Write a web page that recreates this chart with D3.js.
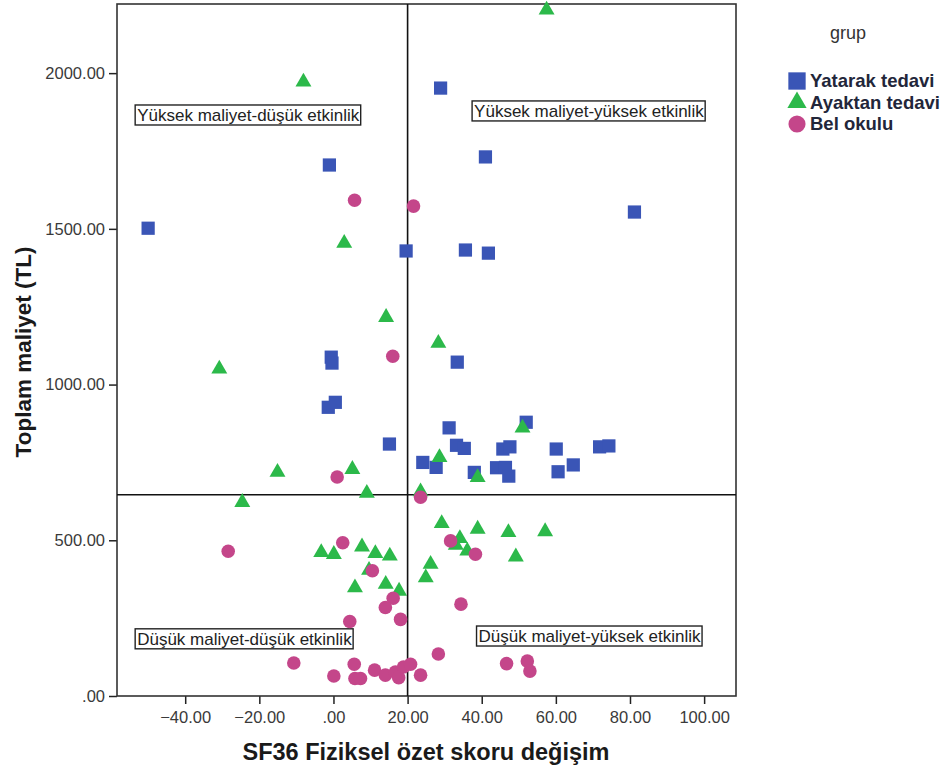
<!DOCTYPE html>
<html>
<head>
<meta charset="utf-8">
<script src="https://cdn.jsdelivr.net/npm/d3@7"></script>
<style>
  body { margin: 0; background: #fff; }
  svg text { font-family: "Liberation Sans", Arial, sans-serif; }
</style>
</head>
<body>
<script>
const width = 944;
const height = 778;

// data: [SF36 change, total cost]
const yatarak = [
  [-50, 1502], [28.9, 1952], [-1.1, 1705], [41.0, 1731], [81.2, 1554],
  [19.6, 1429], [35.6, 1432], [41.8, 1422], [-0.6, 1088], [-0.4, 1069],
  [-1.4, 927], [0.5, 943], [33.4, 1072], [15.1, 809],
  [31.2, 861], [33.2, 805], [35.3, 795], [24.1, 750], [27.7, 734],
  [38.0, 718], [45.7, 793], [47.6, 800], [44.0, 733], [46.4, 734],
  [47.3, 706], [52.0, 879], [60.1, 793], [60.6, 720], [64.7, 742],
  [71.8, 800], [74.3, 803]
];
const ayaktan = [
  [57.5, 2203], [-8.1, 1972], [2.9, 1454], [14.2, 1216], [-30.8, 1050],
  [28.3, 1133], [-15.1, 719], [5.1, 728], [-24.6, 622], [9.0, 651],
  [28.6, 766], [38.9, 702], [51.0, 861], [23.5, 656],
  [-3.3, 461], [0.1, 455], [7.7, 479], [11.3, 458], [15.2, 450],
  [9.6, 404], [5.8, 348], [14.1, 359], [17.7, 337], [26.2, 423],
  [24.9, 380], [29.2, 554], [34.1, 506], [33.0, 484], [38.9, 536],
  [36.1, 466], [47.2, 525], [57.1, 528], [49.2, 447]
];
const belOkulu = [
  [5.7, 1592], [21.6, 1573], [16.0, 1091], [1.0, 703], [23.5, 638],
  [-28.4, 465], [2.5, 492], [10.5, 402], [16.1, 314], [14.0, 284],
  [18.1, 246], [4.4, 239], [-10.7, 106], [0.1, 64], [5.6, 102],
  [5.8, 56], [7.3, 56], [11.1, 83], [14.0, 67], [16.7, 77],
  [17.6, 59], [18.9, 93], [20.8, 102], [23.5, 67], [28.3, 135],
  [31.6, 498], [38.3, 455], [34.4, 295], [46.7, 104], [52.3, 112],
  [53.0, 80]
];

const groupNames = ["Yatarak tedavi", "Ayaktan tedavi", "Bel okulu"];
const groupColors = ["#3a55b6", "#2cb94a", "#c4468a"];
const groupShapes = [d3.symbolSquare, d3.symbolTriangle, d3.symbolCircle];
const groupSizes = [175, 110, 145];

const xTicks = [-40, -20, 0, 20, 40, 60, 80, 100];
const yTicks = [0, 500, 1000, 1500, 2000];
const refX = 20;
const refY = 646;

const quadrants = [
  { label: "Yüksek maliyet-düşük etkinlik", x: -53.5, y: 1866 },
  { label: "Yüksek maliyet-yüksek etkinlik", x: 37.4, y: 1879 },
  { label: "Düşük maliyet-düşük etkinlik", x: -53.5, y: 184 },
  { label: "Düşük maliyet-yüksek etkinlik", x: 38.6, y: 193 }
];

const plot = { left: 117, right: 736, top: 4, bottom: 696 };

const x = d3.scaleLinear().domain([-58.4, 108.6]).range([plot.left, plot.right]);
const y = d3.scaleLinear().domain([0, 2222]).range([plot.bottom, plot.top]);

const fmt = v => d3.format(".2f")(v).replace(/^0\./, ".");

const svg = d3.select("body").append("svg").attr("width", width).attr("height", height);

// axes
const xAxis = svg.append("g")
  .attr("transform", `translate(0,${plot.bottom})`)
  .call(d3.axisBottom(x).tickValues(xTicks).tickFormat(fmt).tickSize(8).tickSizeOuter(0));
const yAxis = svg.append("g")
  .attr("transform", `translate(${plot.left},0)`)
  .call(d3.axisLeft(y).tickValues(yTicks).tickFormat(fmt).tickSize(8).tickSizeOuter(0));

[xAxis, yAxis].forEach(a => {
  a.select(".domain").remove();
  a.selectAll(".tick line").attr("stroke", "#222").attr("stroke-width", 1.5);
  a.selectAll(".tick text")
    .attr("font-size", "16.5px")
    .attr("fill", "#3a3a3a")
    .attr("font-family", "Liberation Sans, Arial, sans-serif");
});
xAxis.selectAll(".tick text").attr("dy", "0.95em");
yAxis.selectAll(".tick text").attr("x", -12);

// frame
svg.append("rect")
  .attr("x", plot.left).attr("y", plot.top)
  .attr("width", plot.right - plot.left).attr("height", plot.bottom - plot.top)
  .attr("fill", "none").attr("stroke", "#333").attr("stroke-width", 1.6);

// reference lines
svg.append("line")
  .attr("x1", x(refX)).attr("x2", x(refX))
  .attr("y1", plot.top).attr("y2", plot.bottom)
  .attr("stroke", "#111").attr("stroke-width", 1.6);
svg.append("line")
  .attr("x1", plot.left).attr("x2", plot.right)
  .attr("y1", y(refY)).attr("y2", y(refY))
  .attr("stroke", "#111").attr("stroke-width", 1.6);

// quadrant labels
quadrants.forEach(q => {
  const g = svg.append("g").attr("transform", `translate(${x(q.x)},${y(q.y)})`);
  const t = g.append("text")
    .attr("x", 2).attr("dy", "0.36em")
    .attr("font-size", "17px")
    .attr("fill", "#222")
    .text(q.label);
  const bb = t.node().getBBox();
  g.insert("rect", "text")
    .attr("x", 0).attr("y", bb.y - 1)
    .attr("width", bb.width + 3).attr("height", bb.height + 1)
    .attr("fill", "#fff").attr("stroke", "#222").attr("stroke-width", 1.4);
});

// points
[yatarak, ayaktan, belOkulu].forEach((data, i) => {
  svg.append("g").selectAll("path")
    .data(data)
    .enter()
    .append("path")
    .attr("d", d3.symbol().type(groupShapes[i]).size(groupSizes[i]))
    .attr("transform", d => `translate(${x(d[0])},${y(d[1])})`)
    .attr("fill", groupColors[i]);
});

// axis titles
svg.append("text")
  .attr("x", 426)
  .attr("y", 760)
  .attr("text-anchor", "middle")
  .attr("font-size", "23.5px")
  .attr("font-weight", "bold")
  .attr("fill", "#1a1a1a")
  .text("SF36 Fiziksel özet skoru değişim");

svg.append("text")
  .attr("transform", "translate(31,352) rotate(-90)")
  .attr("text-anchor", "middle")
  .attr("font-size", "22.5px")
  .attr("font-weight", "bold")
  .attr("fill", "#1a1a1a")
  .text("Toplam maliyet (TL)");

// legend
const legend = svg.append("g").attr("transform", "translate(788,0)");
legend.append("text")
  .attr("x", 60).attr("y", 39)
  .attr("text-anchor", "middle")
  .attr("font-size", "18px")
  .attr("fill", "#333")
  .text("grup");

groupNames.forEach((name, i) => {
  const row = legend.append("g").attr("transform", `translate(0,${81 + i * 21.5})`);
  row.append("path")
    .attr("d", d3.symbol().type(groupShapes[i]).size([300, 160, 230][i]))
    .attr("transform", "translate(9,0)")
    .attr("fill", groupColors[i]);
  row.append("text")
    .attr("x", 22).attr("dy", "0.35em")
    .attr("font-size", "18.5px")
    .attr("font-weight", "bold")
    .attr("fill", "#22263a")
    .text(name);
});
</script>
</body>
</html>
